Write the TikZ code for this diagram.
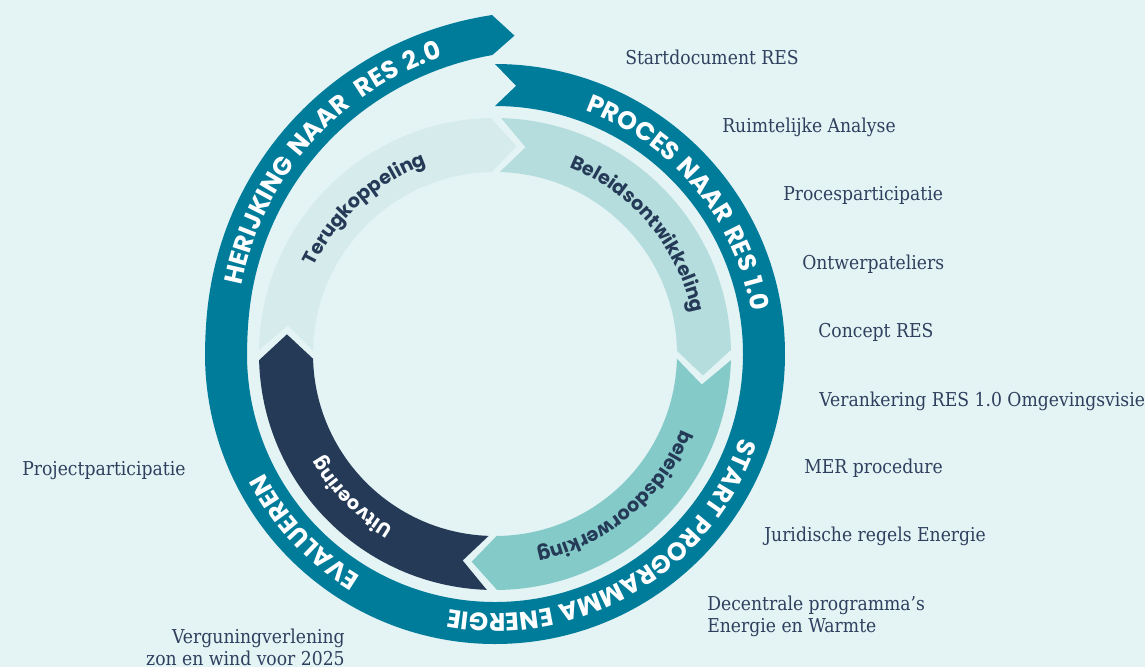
\documentclass[tikz,border=0pt]{standalone}
\usepackage{fontspec}
\setmainfont{DejaVu Serif}[FakeStretch=0.9]
\newfontfamily\ringfont{Poppins}[LetterSpace=6]
\usetikzlibrary{decorations.text}

\definecolor{bgcol}{HTML}{E4F3F4}
\definecolor{ringcol}{HTML}{007C9B}
\definecolor{terugcol}{HTML}{D6ECEC}
\definecolor{beleidcol}{HTML}{B5DDDE}
\definecolor{doorwcol}{HTML}{84CAC9}
\definecolor{uitvcol}{HTML}{243A57}
\definecolor{labelcol}{HTML}{2E405E}

\newcommand{\bandfont}{\ringfont\bfseries\fontsize{18}{20}\selectfont}
\newcommand{\segfont}{\ringfont\bfseries\fontsize{13.6}{16}\selectfont}

% binnenring: begin, eind, kleur
\newcommand{\ringpart}[3]{%
  \fill[#3] (#1:236) arc[start angle=#1, end angle=#2, radius=236]
    -- ({#2-6.9}:209) -- (#2:182) arc[start angle=#2, end angle=#1, radius=182]
    -- ({#1-6.9}:209) -- cycle;}

% tekst langs boog: begin, eind, straal, kleur, tekst
\newcommand{\arctext}[5]{%
  \path[decorate, decoration={text along path, text align=center,
    text color=#4, text={#5}}]
    (#1:#3) arc[start angle=#1, end angle=#2, radius=#3];}

\begin{document}
\begin{tikzpicture}[x=0.025cm, y=0.025cm,
  steptext/.style={anchor=base west, inner sep=0pt, text=labelcol,
    font=\fontsize{13.6}{15.6}\selectfont}]

% Achtergrond
\useasboundingbox (-495,-313) rectangle (650,354);
\fill[bgcol] (-495,-313) rectangle (650,354);

% Buitenring
\fill[ringcol] (90:290) arc[start angle=90, end angle=-182, radius=290]
  -- plot[domain=-182:-269.5, samples=50] (\x:{290+49*pow((-182-(\x))/87.5,1.5)})
  -- (-273.5:319)
  -- plot[domain=-269.5:-182, samples=50] (\x:{248+51*pow((-182-(\x))/87.5,1.5)})
  arc[start angle=-182, end angle=90, radius=248]
  -- (85.5:269) -- cycle;

% Binnenring
\ringpart{179}{91}{terugcol}
\ringpart{88.5}{1}{beleidcol}
\ringpart{-1.5}{-89.5}{doorwcol}
\ringpart{-92}{-178.5}{uitvcol}

% Teksten buitenring
\arctext{80}{-1}{259.5}{white}{|\bandfont|PROCES NAAR RES 1.0}
\arctext{-5}{-114}{259.5}{white}{|\bandfont|START PROGRAMMA ENERGIE}
\arctext{-112}{-162}{259.5}{white}{|\bandfont|EVALUEREN}
\path[decorate, decoration={text along path, text align=center,
  text color=white, text={|\bandfont|HERIJKING NAAR {\kern5pt}RES 2.0}}]
  (184:259.5) -- plot[domain=178:84, samples=48] (\x:{259.5+50*pow((178-(\x))/87.5,1.5)});

% Teksten binnenring
\arctext{172}{92}{201}{uitvcol}{|\segfont|Terugkoppeling}
\arctext{86}{-6}{201}{uitvcol}{|\segfont|Beleidsontwikkeling}
\arctext{-4}{-96}{201}{uitvcol}{|\segfont|beleidsdoorwerking}
\arctext{-95}{-175}{201}{white}{|\segfont|Uitvoering}

% Stappen
\node[steptext] (startdoc) at (130,290) {Startdocument RES};
\node[steptext] (ruimtelijk) at (227,222) {Ruimtelijke Analyse};
\node[steptext] (procespart) at (288,154) {Procesparticipatie};
\node[steptext] (ateliers) at (307,85) {Ontwerpateliers};
\node[steptext] (concept) at (323,17) {Concept RES};
\node[steptext] (verankering) at (324,-52) {Verankering RES 1.0 Omgevingsvisie};
\node[steptext] (mer) at (309,-119) {MER procedure};
\node[steptext] (juridisch) at (269,-187) {Juridische regels Energie};
\node[steptext, align=left] (decentraal) at (212,-278) {Decentrale programma’s\\Energie en Warmte};
\node[steptext] (projectpart) at (-473,-121) {Projectparticipatie};
\node[steptext, anchor=base east, align=right] (vergunning) at (-150,-311) {Verguningverlening\\zon en wind voor 2025};

\end{tikzpicture}
\end{document}
